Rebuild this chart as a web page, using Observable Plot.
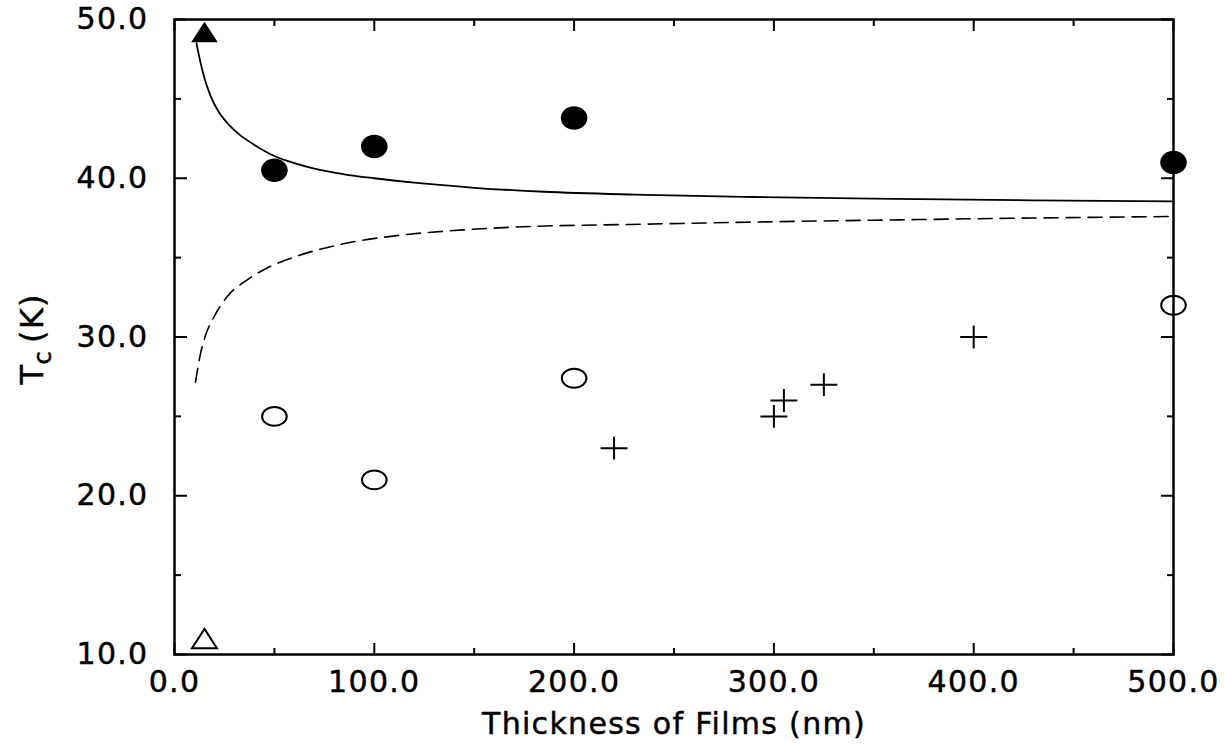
<!DOCTYPE html>
<html><head><meta charset="utf-8">
<script src="https://cdn.jsdelivr.net/npm/d3@7"></script>
<script src="https://cdn.jsdelivr.net/npm/@observablehq/plot@0.6"></script>
<style>
html,body{margin:0;padding:0;background:#fff;}
#chart svg text{letter-spacing:1.3px;stroke:black;stroke-width:0.45px;}
#chart g[aria-label="xlabel"] text{letter-spacing:1.9px;}
#chart g[aria-label^="ylabel"] text{letter-spacing:0.5px;}
</style></head><body><div id="chart"></div>
<script>
// ---- tick values ----
const xTicks = [0, 100, 200, 300, 400, 500];
const xMinorTicks = [50, 150, 250, 350, 450];
const yTicks = [10, 20, 30, 40, 50];
const yMinorTicks = [15, 25, 35, 45];

// ---- data series ----
const filledCircleX = [50, 100, 200, 500];
const filledCircleY = [40.5, 42.0, 43.8, 41.0];
const openCircleX = [50, 100, 200, 500];
const openCircleY = [25.0, 21.0, 27.4, 32.0];
const plusX = [220, 300, 305, 325, 400];
const plusY = [23.0, 25.0, 26.0, 27.0, 30.0];
const filledTriangleX = [15];
const filledTriangleY = [49.0];
const openTriangleX = [15];
const openTriangleY = [10.8];

const solidCurveX = [11, 13, 15, 18, 22, 27, 33, 40, 50, 60, 70, 85, 100, 120, 150, 185, 230, 290, 360, 430, 500];
const solidCurveY = [48.5, 47.3, 46.3, 45.2, 44.2, 43.4, 42.7, 42.1, 41.4, 40.95, 40.6, 40.25, 40.0, 39.72, 39.4, 39.15, 38.97, 38.82, 38.7, 38.61, 38.54];
const dashedCurveX = [10.5, 13, 15.5, 19.7, 26.4, 36.4, 46.4, 58, 66.4, 86.4, 111.5, 145, 178, 228, 300, 363, 413, 500];
const dashedCurveY = [27.15, 28.94, 30.09, 31.25, 32.55, 33.6, 34.35, 34.95, 35.3, 35.92, 36.39, 36.75, 36.96, 37.09, 37.26, 37.38, 37.47, 37.59];

// ---- text ----
const xLabel = "Thickness of Films (nm)";
const yLabelMain = "T";
const yLabelSub = "c";
const yLabelUnit = "(K)";

const rows = (xs, ys) => xs.map((x, i) => ({x, y: ys[i]}));

// ---- custom symbols ----
const KAPPA = 0.5523;
function ellipseSymbol(aspect) {
  return {draw(ctx, size) {
    const rx = Math.sqrt(size / Math.PI), ry = rx * aspect;
    ctx.moveTo(rx, 0);
    ctx.bezierCurveTo(rx, ry * KAPPA, rx * KAPPA, ry, 0, ry);
    ctx.bezierCurveTo(-rx * KAPPA, ry, -rx, ry * KAPPA, -rx, 0);
    ctx.bezierCurveTo(-rx, -ry * KAPPA, -rx * KAPPA, -ry, 0, -ry);
    ctx.bezierCurveTo(rx * KAPPA, -ry, rx, -ry * KAPPA, rx, 0);
    ctx.closePath();
  }};
}
const plusSymbol = {draw(ctx, size) {
  const r = Math.sqrt(size / Math.PI);
  ctx.moveTo(-r, 0); ctx.lineTo(r, 0);
  ctx.moveTo(0, -r * 0.85); ctx.lineTo(0, r * 0.85);
}};
const triangleSymbol = {draw(ctx, size) {
  const r = Math.sqrt(size / Math.PI), h = r * 1.55;
  ctx.moveTo(0, -2 * h / 3);
  ctx.lineTo(r, h / 3);
  ctx.lineTo(-r, h / 3);
  ctx.closePath();
}};

const fmt = d => d.toFixed(1);

const chart = Plot.plot({
  width: 1224,
  height: 744,
  marginLeft: 174,
  marginRight: 51,
  marginTop: 19,
  marginBottom: 90,
  style: {fontFamily: "DejaVu Sans", fontSize: "30px", color: "black", background: "white", overflow: "visible"},
  x: {domain: [0, 500]},
  y: {domain: [10, 50]},
  marks: [
    // tick labels
    Plot.axisX({anchor: "bottom", ticks: xTicks, tickSize: 0, tickPadding: 16, tickFormat: fmt, fontSize: 30, label: null}),
    Plot.axisY({anchor: "left", ticks: yTicks, tickSize: 0, tickPadding: 26, tickFormat: fmt, fontSize: 30, label: null}),
    // inward ticks
    Plot.axisX({anchor: "bottom", ticks: xTicks, tickSize: 11, dy: -11, fill: "none", strokeWidth: 2}),
    Plot.axisX({anchor: "bottom", ticks: xMinorTicks, tickSize: 6, dy: -6, fill: "none", strokeWidth: 2}),
    Plot.axisX({anchor: "top", ticks: xTicks, tickSize: 11, dy: 11, fill: "none", strokeWidth: 2}),
    Plot.axisX({anchor: "top", ticks: xMinorTicks, tickSize: 6, dy: 6, fill: "none", strokeWidth: 2}),
    Plot.axisY({anchor: "left", ticks: yTicks, tickSize: 13, dx: 13, fill: "none", strokeWidth: 2}),
    Plot.axisY({anchor: "left", ticks: yMinorTicks, tickSize: 7, dx: 7, fill: "none", strokeWidth: 2}),
    Plot.axisY({anchor: "right", ticks: yTicks, tickSize: 13, dx: -13, fill: "none", strokeWidth: 2}),
    Plot.axisY({anchor: "right", ticks: yMinorTicks, tickSize: 7, dx: -7, fill: "none", strokeWidth: 2}),
    Plot.frame({stroke: "black", strokeWidth: 2.5}),
    // curves
    Plot.line(rows(solidCurveX, solidCurveY), {x: "x", y: "y", stroke: "black", strokeWidth: 1.8, curve: "monotone-x"}),
    Plot.line(rows(dashedCurveX, dashedCurveY), {x: "x", y: "y", stroke: "black", strokeWidth: 1.6, strokeDasharray: "14,8", curve: "monotone-x"}),
    // points
    Plot.dot(rows(filledCircleX, filledCircleY), {x: "x", y: "y", r: 13.3, symbol: ellipseSymbol(0.88), fill: "black", stroke: "none"}),
    Plot.dot(rows(openCircleX, openCircleY), {x: "x", y: "y", r: 12.3, symbol: ellipseSymbol(0.77), fill: "none", stroke: "black", strokeWidth: 2}),
    Plot.dot(rows(plusX, plusY), {x: "x", y: "y", r: 13.5, symbol: plusSymbol, fill: "none", stroke: "black", strokeWidth: 2}),
    Plot.dot(rows(filledTriangleX, filledTriangleY), {x: "x", y: "y", r: 13.3, symbol: triangleSymbol, fill: "black", stroke: "none"}),
    Plot.dot(rows(openTriangleX, openTriangleY), {x: "x", y: "y", r: 12.5, symbol: triangleSymbol, fill: "none", stroke: "black", strokeWidth: 2}),
    // axis titles
    Plot.text([xLabel], {frameAnchor: "bottom", text: d => d, lineAnchor: "bottom", dy: 79, fontSize: 30, fill: "black", ariaLabel: "xlabel"}),
    Plot.text([yLabelMain], {frameAnchor: "left", text: d => d, rotate: -90, textAnchor: "start", lineAnchor: "bottom", dx: -132, dy: 47.5, fontSize: 32, fill: "black", ariaLabel: "ylabel-main"}),
    Plot.text([yLabelSub], {frameAnchor: "left", text: d => d, rotate: -90, textAnchor: "start", lineAnchor: "bottom", dx: -124, dy: 27.5, fontSize: 24, fill: "black", ariaLabel: "ylabel-sub"}),
    Plot.text([yLabelUnit], {frameAnchor: "left", text: d => d, rotate: -90, textAnchor: "start", lineAnchor: "bottom", dx: -132, dy: 6, fontSize: 32, fill: "black", ariaLabel: "ylabel-unit"})
  ]
});
document.getElementById("chart").appendChild(chart);
</script></body></html>
